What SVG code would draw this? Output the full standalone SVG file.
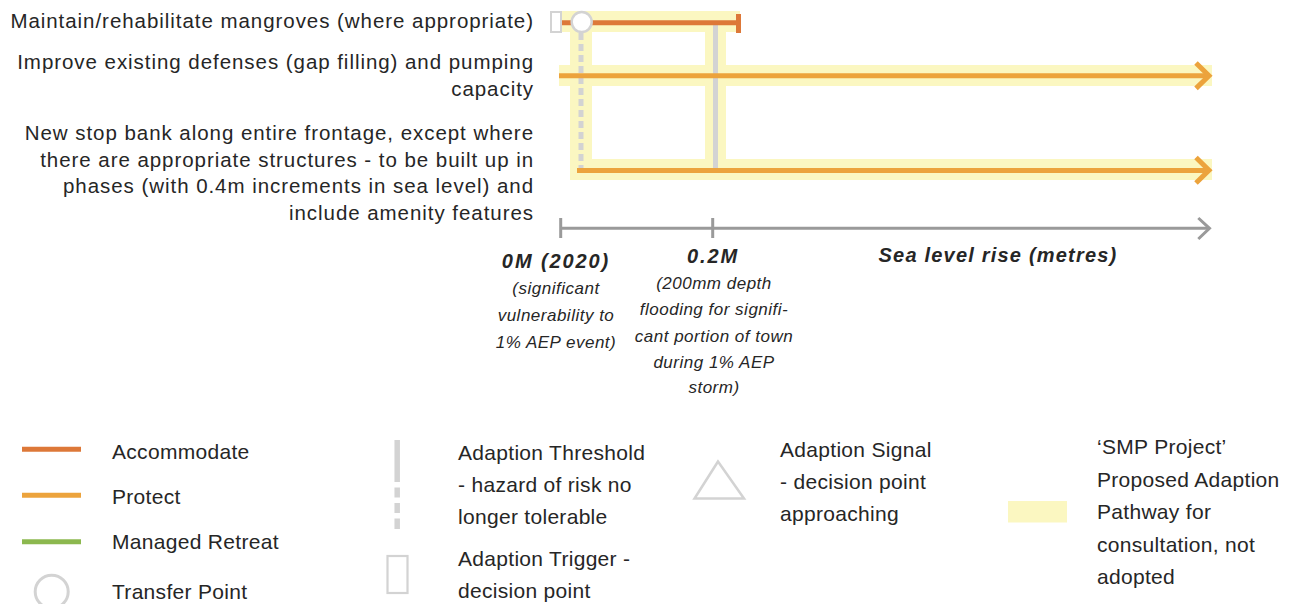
<svg xmlns="http://www.w3.org/2000/svg" width="1299" height="604" viewBox="0 0 1299 604">
<style>
text{font-family:"Liberation Sans",Arial,sans-serif;fill:#262626}
.lbl{font-size:20.5px;letter-spacing:0.95px;text-anchor:end}
.leg{font-size:21px;letter-spacing:0.3px}
.ax{font-size:20px;font-weight:bold;font-style:italic;text-anchor:middle}
.sub{font-size:17px;font-style:italic;text-anchor:middle;letter-spacing:0.5px}
.band{fill:#fbf7c1}
.acc{stroke:#dd7838;stroke-width:5;fill:none}
.pro{stroke:#eca33c;stroke-width:5;fill:none}
.ret{stroke:#8cb84f;stroke-width:5;fill:none}
.gry{stroke:#d3d3d3;fill:none}
.axis{stroke:#9a9a9a;stroke-width:3;fill:none}
</style>

<g id="pathway-bands">
<rect class="band" x="562" y="11" width="178" height="21"/>
<rect class="band" x="570" y="11" width="22" height="169"/>
<rect class="band" x="705" y="11" width="21" height="169"/>
<rect class="band" x="559" y="65" width="653" height="21"/>
<rect class="band" x="570" y="159" width="642" height="21"/>
</g>

<g id="label-mangroves">
<text class="lbl" x="534" y="28">Maintain/rehabilitate mangroves (where appropriate)</text>
</g>
<g id="label-improve">
<text class="lbl" x="534" y="68.5">Improve existing defenses (gap filling) and pumping</text>
<text class="lbl" x="534" y="95.5">capacity</text>
</g>
<g id="label-stopbank">
<text class="lbl" x="534" y="140">New stop bank along entire frontage, except where</text>
<text class="lbl" x="534" y="166.5">there are appropriate structures - to be built up in</text>
<text class="lbl" x="534" y="193">phases (with 0.4m increments in sea level) and</text>
<text class="lbl" x="534" y="219.5">include amenity features</text>
</g>

<g id="connectors">
<line class="gry" x1="581" y1="33" x2="581" y2="168" stroke-width="5" stroke-dasharray="7 4"/>
<line class="gry" x1="715.5" y1="25" x2="715.5" y2="168" stroke-width="5"/>
<line class="acc" x1="562" y1="22.7" x2="738" y2="22.7"/>
<line class="acc" x1="738.5" y1="14" x2="738.5" y2="33"/>
<line class="pro" x1="559" y1="75.7" x2="1208" y2="75.7"/>
<polyline class="pro" points="1196,63 1209,75.7 1196,88.4" stroke-width="5.5"/>
<line class="pro" x1="577" y1="170.5" x2="1208" y2="170.5"/>
<polyline class="pro" points="1196,157.5 1209,170.3 1196,183" stroke-width="5.5"/>
</g>

<g id="trigger-point">
<rect x="551" y="12" width="10" height="20" fill="#fff" stroke="#d3d3d3" stroke-width="2"/>
</g>
<g id="transfer-point">
<circle cx="581.7" cy="22" r="10" fill="#fff" stroke="#d3d3d3" stroke-width="2.5"/>
</g>

<g id="axis">
<line class="axis" x1="560" y1="228.3" x2="1209" y2="228.3"/>
<line class="axis" x1="560.7" y1="218" x2="560.7" y2="238"/>
<line class="axis" x1="712.7" y1="218" x2="712.7" y2="238"/>
<polyline class="axis" points="1198.3,218 1209.5,228.3 1198.3,239" stroke-width="2.5"/>
<text class="ax" x="556" y="268" style="letter-spacing:1.9px">0M (2020)</text>
<text class="sub" x="556" y="294.3">(significant</text>
<text class="sub" x="556" y="321">vulnerability to</text>
<text class="sub" x="556" y="347.5">1% AEP event)</text>
<text class="ax" x="713" y="263" style="letter-spacing:1.9px">0.2M</text>
<text class="sub" x="714" y="289">(200mm depth</text>
<text class="sub" x="714" y="315">flooding for signifi-</text>
<text class="sub" x="714" y="341.5">cant portion of town</text>
<text class="sub" x="714" y="368">during 1% AEP</text>
<text class="sub" x="714" y="393">storm)</text>
<text class="ax" x="998" y="262" style="letter-spacing:1.2px">Sea level rise (metres)</text>
</g>

<g id="legend-accommodate">
<line class="acc" x1="22" y1="449.2" x2="81" y2="449.2"/>
<text class="leg" x="112" y="459">Accommodate</text>
</g>
<g id="legend-protect">
<line class="pro" x1="22" y1="495.3" x2="81" y2="495.3"/>
<text class="leg" x="112" y="503.5">Protect</text>
</g>
<g id="legend-retreat">
<line class="ret" x1="22" y1="541.7" x2="81" y2="541.7"/>
<text class="leg" x="112" y="548.5">Managed Retreat</text>
</g>
<g id="legend-transfer">
<circle cx="51.7" cy="591.7" r="16.5" fill="none" stroke="#d3d3d3" stroke-width="3"/>
<text class="leg" x="112" y="598.5">Transfer Point</text>
</g>
<g id="legend-threshold">
<line class="gry" x1="397.2" y1="440" x2="397.2" y2="529" stroke-width="5.5" stroke-dasharray="42 5.5 10 5.5 10 5.5 10.5"/>
<text class="leg" x="458" y="460">Adaption Threshold</text>
<text class="leg" x="458" y="492">- hazard of risk no</text>
<text class="leg" x="458" y="524">longer tolerable</text>
</g>
<g id="legend-trigger">
<rect x="387.5" y="556" width="20" height="37" fill="none" stroke="#d3d3d3" stroke-width="2.2"/>
<text class="leg" x="458" y="566">Adaption Trigger -</text>
<text class="leg" x="458" y="598">decision point</text>
</g>
<g id="legend-signal">
<polygon points="718,461.5 694.5,498.5 744,498.5" fill="none" stroke="#d3d3d3" stroke-width="2.5"/>
<text class="leg" x="780" y="457">Adaption Signal</text>
<text class="leg" x="780" y="489">- decision point</text>
<text class="leg" x="780" y="520.5">approaching</text>
</g>
<g id="legend-pathway">
<rect class="band" x="1008" y="501" width="59" height="21.5"/>
<text class="leg" x="1097" y="453.5">‘SMP Project’</text>
<text class="leg" x="1097" y="487">Proposed Adaption</text>
<text class="leg" x="1097" y="519">Pathway for</text>
<text class="leg" x="1097" y="551.5">consultation, not</text>
<text class="leg" x="1097" y="583.5">adopted</text>
</g>
</svg>
